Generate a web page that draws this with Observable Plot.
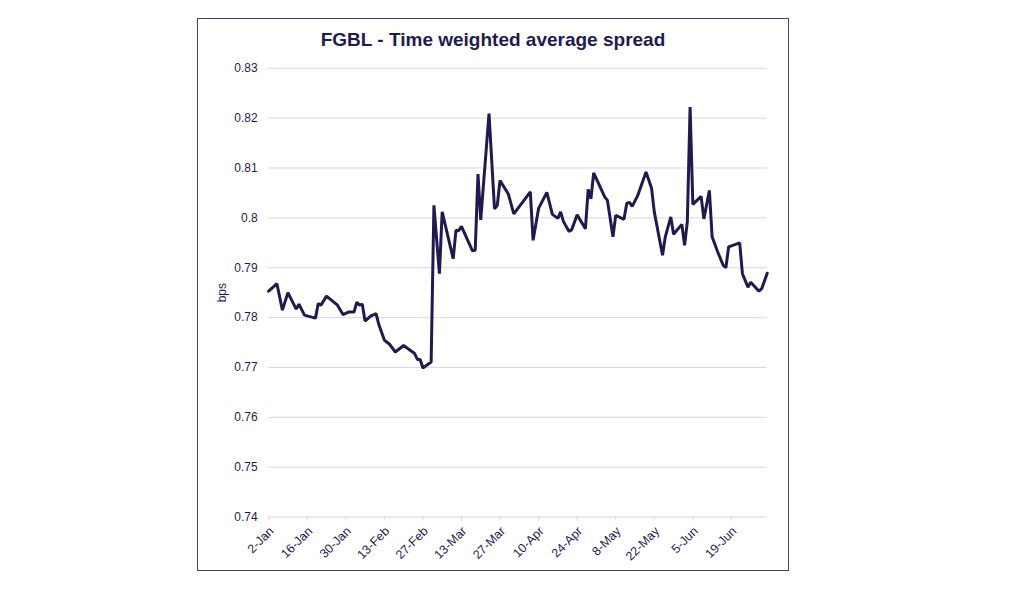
<!DOCTYPE html>
<html><head><meta charset="utf-8">
<script src="https://cdn.jsdelivr.net/npm/d3@7"></script>
<script src="https://cdn.jsdelivr.net/npm/@observablehq/plot@0.6"></script>
<style>
html,body{margin:0;padding:0;background:#fff;width:1024px;height:589px;overflow:hidden;font-family:"Liberation Sans",Arial,sans-serif;}
#frame{position:absolute;left:197px;top:18px;width:592px;height:553px;box-sizing:border-box;border:1.5px solid #45406e;}
#title{position:absolute;left:0;right:0;top:10px;text-align:center;font-weight:bold;font-size:19px;color:#1f1b4e;}
#chart{position:absolute;left:-1.5px;top:-1.5px;}
</style></head><body>
<div id="frame"><div id="chart"></div><div id="title">FGBL - Time weighted average spread</div></div>
<script>
const dates = [
"2015-01-02","2015-01-05","2015-01-07","2015-01-09","2015-01-12","2015-01-13","2015-01-15","2015-01-19","2015-01-20","2015-01-21",
"2015-01-23","2015-01-27","2015-01-29","2015-01-31","2015-02-02","2015-02-03","2015-02-04","2015-02-05","2015-02-06","2015-02-08",
"2015-02-10","2015-02-11","2015-02-13","2015-02-15","2015-02-17","2015-02-20","2015-02-24","2015-02-25","2015-02-26","2015-02-27",
"2015-03-02","2015-03-03","2015-03-05","2015-03-06","2015-03-10","2015-03-11","2015-03-12","2015-03-13","2015-03-17","2015-03-18",
"2015-03-19","2015-03-20","2015-03-23","2015-03-25","2015-03-26","2015-03-27","2015-03-30","2015-04-01","2015-04-07","2015-04-08",
"2015-04-10","2015-04-13","2015-04-15","2015-04-17","2015-04-18","2015-04-19","2015-04-21","2015-04-22","2015-04-24","2015-04-27",
"2015-04-28","2015-04-29","2015-04-30","2015-05-04","2015-05-05","2015-05-07","2015-05-08","2015-05-11","2015-05-12","2015-05-13",
"2015-05-14","2015-05-16","2015-05-19","2015-05-21","2015-05-22","2015-05-25","2015-05-26","2015-05-28","2015-05-29","2015-06-01",
"2015-06-02","2015-06-03","2015-06-04","2015-06-05","2015-06-08","2015-06-09","2015-06-11","2015-06-12","2015-06-14","2015-06-16",
"2015-06-17","2015-06-18","2015-06-22","2015-06-23","2015-06-25","2015-06-26","2015-06-29","2015-06-30","2015-07-02"
];
const spread = [
0.7853,0.7868,0.7815,0.7850,0.7817,0.7827,0.7805,0.7799,0.7828,0.7825,
0.7843,0.7825,0.7806,0.7811,0.7811,0.7831,0.7825,0.7827,0.7793,0.7803,
0.7808,0.7786,0.7755,0.7746,0.7731,0.7744,0.7728,0.7716,0.7716,0.7699,
0.7711,0.8025,0.7888,0.8012,0.7918,0.7975,0.7974,0.7983,0.7934,0.7935,
0.8088,0.7996,0.8209,0.8018,0.8025,0.8075,0.8048,0.8008,0.8052,0.7955,
0.8019,0.8051,0.8007,0.7999,0.8012,0.7993,0.7973,0.7976,0.8006,0.7978,
0.8057,0.8038,0.8090,0.8042,0.8035,0.7962,0.8005,0.7997,0.8029,0.8031,
0.8023,0.8045,0.8092,0.8060,0.8012,0.7925,0.7962,0.8002,0.7967,0.7987,
0.7945,0.7992,0.8222,0.8027,0.8043,0.7998,0.8055,0.7962,0.7932,0.7905,
0.7900,0.7942,0.7950,0.7888,0.7861,0.7871,0.7853,0.7858,0.7889
];
const xTickDates = ["2015-01-02","2015-01-16","2015-01-30","2015-02-13","2015-02-27","2015-03-13","2015-03-27","2015-04-10","2015-04-24","2015-05-08","2015-05-22","2015-06-05","2015-06-19"];
const yTicks = [0.74,0.75,0.76,0.77,0.78,0.79,0.80,0.81,0.82,0.83];

const data = dates.map((d, i) => ({date: new Date(d), value: spread[i]}));
const xTicks = xTickDates.map(d => new Date(d));
const ink = "#1f1b4e";
const grid = "#d7d6f3";

const chart = Plot.plot({
  width: 592, height: 553,
  marginLeft: 71.2, marginRight: 21.8, marginTop: 49.8, marginBottom: 54,
  style: {fontFamily: '"Liberation Sans", Arial, sans-serif', fontSize: "12px", color: ink, background: "transparent", overflow: "visible"},
  x: {type: "utc", domain: [new Date(dates[0]), new Date(dates[dates.length - 1])]},
  y: {domain: [0.74, 0.83]},
  marks: [
    Plot.gridY(yTicks, {stroke: grid, strokeOpacity: 1, strokeWidth: 1}),
    Plot.axisX(xTicks, {tickSize: 4, tickFormat: () => "", stroke: grid, strokeOpacity: 1, label: null}),
    Plot.axisX(xTicks, {tickRotate: -45, tickFormat: d3.utcFormat("%-d-%b"), tickSize: 0, tickPadding: 7, dx: 3, dy: 5, fill: ink, fontSize: 12.5, label: null}),
    Plot.axisY(yTicks, {tickSize: 0, tickPadding: 11, tickFormat: d => String(+d.toFixed(2)), fill: ink, fontSize: 12, label: "bps", labelAnchor: "center", labelArrow: "none", labelOffset: 51}),
    Plot.lineY(data, {x: "date", y: "value", stroke: ink, strokeWidth: 3, strokeLinejoin: "miter"})
  ]
});
document.getElementById("chart").appendChild(chart);
</script>
</body></html>
